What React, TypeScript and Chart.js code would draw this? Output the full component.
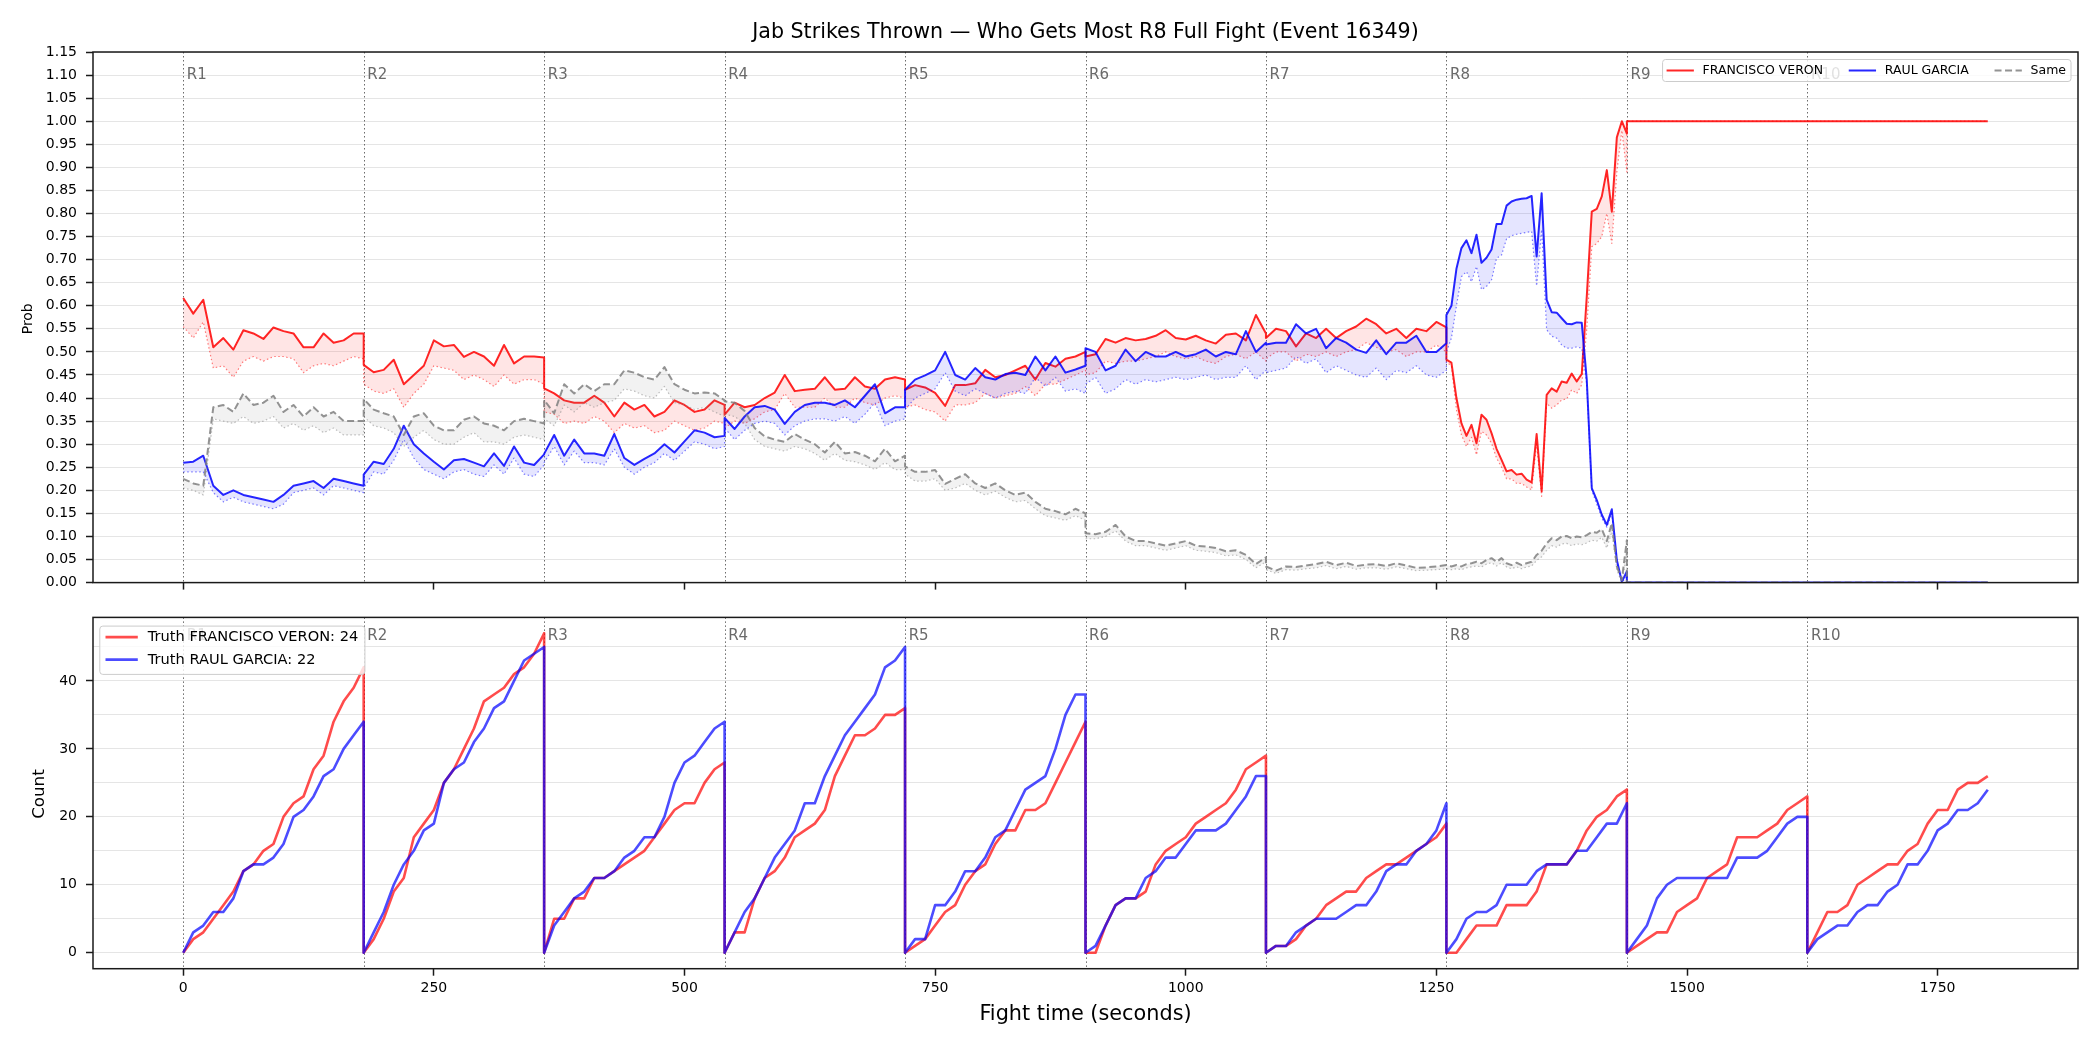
import { useEffect, useRef } from 'react';
import { Chart, registerables } from 'chart.js';

Chart.register(...registerables);

const FONT = "'DejaVu Sans', 'Liberation Sans', sans-serif";
Chart.defaults.font.family = FONT;

// ---------- text ----------
const TITLE = 'Jab Strikes Thrown — Who Gets Most R8 Full Fight (Event 16349)';
const FIGHTER_A = 'FRANCISCO VERON';
const FIGHTER_B = 'RAUL GARCIA';
const SAME_LABEL = 'Same';
const TRUTH_A = 24;
const TRUTH_B = 22;
const X_TITLE = 'Fight time (seconds)';

// ---------- axes ----------
const ROUND_STARTS = [0, 180, 360, 540, 720, 900, 1080, 1260, 1440, 1620];
const ROUND_LABELS = ['R1', 'R2', 'R3', 'R4', 'R5', 'R6', 'R7', 'R8', 'R9', 'R10'];
const TIME_TICKS = [0, 250, 500, 750, 1000, 1250, 1500, 1750];
const PROB_TICKS = [0, 0.05, 0.1, 0.15, 0.2, 0.25, 0.3, 0.35, 0.4, 0.45, 0.5, 0.55, 0.6, 0.65, 0.7, 0.75, 0.8, 0.85, 0.9, 0.95, 1.0, 1.05, 1.1, 1.15];
const COUNT_TICKS = [0, 5, 10, 15, 20, 25, 30, 35, 40, 45];

// sampling step (seconds) of each round's probability series, R1..R8
const PROB_STEPS = [10, 10, 10, 10, 10, 10, 10, 5];
// settled part after the R8 decision
const PROB_TAIL_TIMES = [1440, 1800];
const COUNT_STEP = 10;

// ---------- probability series (per round) ----------
const veronProb = [
  [0.617, 0.583, 0.613, 0.51, 0.53, 0.505, 0.547, 0.54, 0.528, 0.553, 0.545, 0.54, 0.51, 0.51, 0.54, 0.52, 0.525, 0.54, 0.54],
  [0.472, 0.456, 0.461, 0.483, 0.43, 0.45, 0.47, 0.525, 0.512, 0.515, 0.489, 0.5, 0.49, 0.47, 0.515, 0.475, 0.49, 0.49, 0.488],
  [0.421, 0.41, 0.395, 0.39, 0.39, 0.405, 0.39, 0.36, 0.39, 0.375, 0.385, 0.36, 0.37, 0.395, 0.385, 0.37, 0.375, 0.395, 0.385],
  [0.364, 0.39, 0.38, 0.385, 0.4, 0.412, 0.45, 0.415, 0.418, 0.42, 0.445, 0.418, 0.42, 0.445, 0.425, 0.42, 0.44, 0.445, 0.44],
  [0.418, 0.428, 0.423, 0.411, 0.383, 0.428, 0.428, 0.432, 0.461, 0.445, 0.45, 0.46, 0.47, 0.44, 0.476, 0.468, 0.485, 0.49, 0.5],
  [0.49, 0.495, 0.528, 0.52, 0.53, 0.525, 0.528, 0.535, 0.547, 0.53, 0.527, 0.535, 0.525, 0.518, 0.537, 0.54, 0.525, 0.58, 0.54],
  [0.53, 0.55, 0.545, 0.512, 0.54, 0.53, 0.55, 0.53, 0.545, 0.555, 0.572, 0.56, 0.54, 0.55, 0.53, 0.55, 0.545, 0.565, 0.553],
  [0.483, 0.477, 0.4, 0.345, 0.318, 0.342, 0.302, 0.364, 0.353, 0.324, 0.29, 0.266, 0.241, 0.244, 0.234, 0.236, 0.223, 0.217, 0.322, 0.198,
   0.407, 0.421, 0.414, 0.436, 0.433, 0.453, 0.436, 0.452, 0.62, 0.804, 0.81, 0.837, 0.894, 0.804, 0.965, 1.0, 0.973],
];
const veronProbTail = [1, 1];

const veronLow = [
  [0.555, 0.53, 0.565, 0.465, 0.47, 0.445, 0.48, 0.49, 0.48, 0.49, 0.49, 0.485, 0.455, 0.47, 0.475, 0.47, 0.48, 0.49, 0.485],
  [0.43, 0.415, 0.41, 0.42, 0.38, 0.41, 0.43, 0.47, 0.465, 0.46, 0.44, 0.45, 0.44, 0.425, 0.45, 0.43, 0.44, 0.44, 0.43],
  [0.37, 0.365, 0.345, 0.35, 0.345, 0.36, 0.35, 0.325, 0.345, 0.335, 0.34, 0.325, 0.33, 0.35, 0.34, 0.33, 0.335, 0.35, 0.345],
  [0.335, 0.35, 0.345, 0.355, 0.37, 0.375, 0.41, 0.38, 0.38, 0.38, 0.4, 0.38, 0.38, 0.4, 0.39, 0.385, 0.4, 0.405, 0.4],
  [0.38, 0.385, 0.375, 0.37, 0.35, 0.385, 0.385, 0.39, 0.41, 0.4, 0.405, 0.41, 0.425, 0.405, 0.43, 0.43, 0.44, 0.45, 0.46],
  [0.45, 0.455, 0.48, 0.475, 0.48, 0.48, 0.485, 0.49, 0.5, 0.49, 0.485, 0.49, 0.48, 0.475, 0.49, 0.495, 0.485, 0.5, 0.48],
  [0.485, 0.5, 0.5, 0.48, 0.495, 0.49, 0.5, 0.49, 0.5, 0.505, 0.52, 0.51, 0.5, 0.505, 0.49, 0.5, 0.5, 0.515, 0.5],
  [0.478, 0.47, 0.375, 0.32, 0.295, 0.315, 0.277, 0.328, 0.32, 0.302, 0.27, 0.25, 0.225, 0.225, 0.215, 0.215, 0.207, 0.201, 0.3, 0.187,
   0.389, 0.378, 0.385, 0.396, 0.398, 0.418, 0.41, 0.429, 0.55, 0.728, 0.735, 0.75, 0.8, 0.735, 0.89, 0.98, 0.89],
];
const veronLowTail = [1, 1];

const garciaProb = [
  [0.26, 0.262, 0.275, 0.21, 0.19, 0.2, 0.19, 0.185, 0.18, 0.175, 0.19, 0.21, 0.215, 0.22, 0.205, 0.225, 0.22, 0.215, 0.21],
  [0.234, 0.262, 0.257, 0.29, 0.34, 0.3, 0.28, 0.262, 0.245, 0.265, 0.268, 0.26, 0.252, 0.28, 0.253, 0.295, 0.26, 0.255, 0.278],
  [0.279, 0.32, 0.275, 0.31, 0.28, 0.28, 0.275, 0.322, 0.27, 0.255, 0.268, 0.28, 0.3, 0.282, 0.306, 0.33, 0.325, 0.315, 0.318],
  [0.357, 0.333, 0.36, 0.38, 0.383, 0.375, 0.344, 0.37, 0.385, 0.39, 0.39, 0.385, 0.395, 0.38, 0.405, 0.43, 0.367, 0.38, 0.38],
  [0.418, 0.44, 0.449, 0.46, 0.5, 0.45, 0.44, 0.465, 0.445, 0.44, 0.452, 0.455, 0.45, 0.49, 0.46, 0.49, 0.455, 0.462, 0.47],
  [0.508, 0.5, 0.46, 0.47, 0.505, 0.48, 0.5, 0.49, 0.49, 0.5, 0.49, 0.495, 0.505, 0.49, 0.5, 0.495, 0.545, 0.5, 0.52],
  [0.516, 0.52, 0.52, 0.56, 0.54, 0.55, 0.508, 0.53, 0.52, 0.505, 0.498, 0.525, 0.495, 0.52, 0.52, 0.535, 0.5, 0.5, 0.519],
  [0.58, 0.6, 0.68, 0.725, 0.742, 0.714, 0.754, 0.693, 0.704, 0.722, 0.777, 0.777, 0.817, 0.826, 0.83, 0.832, 0.833, 0.838, 0.707, 0.844,
   0.613, 0.586, 0.585, 0.573, 0.561, 0.56, 0.564, 0.563, 0.44, 0.205, 0.179, 0.147, 0.125, 0.159, 0.049, 0.002, 0.024],
];
const garciaProbTail = [0, 0];

const garciaLow = [
  [0.24, 0.24, 0.24, 0.195, 0.175, 0.185, 0.175, 0.17, 0.165, 0.16, 0.17, 0.195, 0.2, 0.205, 0.19, 0.21, 0.205, 0.2, 0.195],
  [0.205, 0.24, 0.235, 0.265, 0.31, 0.27, 0.245, 0.235, 0.225, 0.24, 0.245, 0.235, 0.23, 0.255, 0.235, 0.27, 0.235, 0.23, 0.255],
  [0.26, 0.295, 0.255, 0.285, 0.26, 0.26, 0.255, 0.29, 0.25, 0.235, 0.25, 0.26, 0.28, 0.265, 0.285, 0.305, 0.3, 0.29, 0.295],
  [0.335, 0.31, 0.33, 0.345, 0.35, 0.345, 0.32, 0.34, 0.35, 0.355, 0.355, 0.35, 0.36, 0.345, 0.365, 0.39, 0.34, 0.35, 0.355],
  [0.375, 0.4, 0.41, 0.42, 0.455, 0.415, 0.405, 0.42, 0.41, 0.4, 0.41, 0.415, 0.41, 0.445, 0.425, 0.445, 0.415, 0.42, 0.41],
  [0.43, 0.445, 0.41, 0.42, 0.44, 0.43, 0.44, 0.435, 0.44, 0.445, 0.44, 0.445, 0.45, 0.44, 0.445, 0.445, 0.47, 0.44, 0.46],
  [0.455, 0.46, 0.465, 0.49, 0.475, 0.485, 0.455, 0.47, 0.46, 0.45, 0.445, 0.465, 0.44, 0.46, 0.455, 0.47, 0.45, 0.445, 0.46],
  [0.5, 0.53, 0.6, 0.663, 0.674, 0.652, 0.685, 0.635, 0.642, 0.656, 0.703, 0.71, 0.745, 0.752, 0.755, 0.757, 0.759, 0.761, 0.643, 0.765,
   0.548, 0.534, 0.53, 0.515, 0.508, 0.508, 0.511, 0.508, 0.43, 0.2, 0.17, 0.14, 0.12, 0.15, 0.045, 0.0, 0.013],
];
const garciaLowTail = [0, 0];

const sameProb = [
  [0.225, 0.215, 0.21, 0.38, 0.385, 0.37, 0.41, 0.385, 0.39, 0.405, 0.37, 0.385, 0.36, 0.38, 0.36, 0.37, 0.35, 0.35, 0.35],
  [0.398, 0.375, 0.367, 0.36, 0.32, 0.36, 0.367, 0.34, 0.33, 0.33, 0.353, 0.36, 0.345, 0.34, 0.33, 0.35, 0.355, 0.35, 0.345],
  [0.396, 0.367, 0.43, 0.41, 0.43, 0.415, 0.43, 0.43, 0.46, 0.455, 0.445, 0.44, 0.467, 0.43, 0.418, 0.41, 0.412, 0.41, 0.395],
  [0.393, 0.39, 0.372, 0.335, 0.317, 0.31, 0.305, 0.322, 0.31, 0.3, 0.282, 0.305, 0.28, 0.283, 0.275, 0.263, 0.29, 0.263, 0.275],
  [0.252, 0.24, 0.24, 0.244, 0.214, 0.225, 0.235, 0.215, 0.205, 0.215, 0.2, 0.19, 0.195, 0.175, 0.16, 0.155, 0.148, 0.16, 0.15],
  [0.107, 0.105, 0.11, 0.125, 0.1, 0.09, 0.09, 0.085, 0.08, 0.085, 0.09, 0.08, 0.078, 0.075, 0.068, 0.07, 0.06, 0.04, 0.055],
  [0.035, 0.026, 0.035, 0.034, 0.037, 0.04, 0.045, 0.038, 0.043, 0.036, 0.039, 0.04, 0.036, 0.042, 0.037, 0.032, 0.033, 0.035, 0.038],
  [0.038, 0.035, 0.038, 0.035, 0.04, 0.042, 0.045, 0.042, 0.049, 0.053, 0.045, 0.053, 0.042, 0.038, 0.043, 0.038, 0.042, 0.045, 0.06, 0.069,
   0.085, 0.096, 0.092, 0.1, 0.101, 0.096, 0.1, 0.098, 0.103, 0.11, 0.108, 0.116, 0.09, 0.129, 0.035, 0.006, 0.092],
];
const sameProbTail = [0, 0];

const sameLow = [
  [0.205, 0.2, 0.19, 0.355, 0.35, 0.345, 0.36, 0.345, 0.35, 0.36, 0.335, 0.345, 0.33, 0.34, 0.325, 0.335, 0.32, 0.32, 0.32],
  [0.36, 0.34, 0.335, 0.325, 0.295, 0.315, 0.33, 0.31, 0.3, 0.3, 0.315, 0.325, 0.305, 0.305, 0.3, 0.315, 0.32, 0.315, 0.31],
  [0.355, 0.34, 0.385, 0.37, 0.39, 0.38, 0.39, 0.395, 0.42, 0.415, 0.405, 0.4, 0.425, 0.39, 0.385, 0.375, 0.38, 0.37, 0.36],
  [0.365, 0.36, 0.345, 0.31, 0.295, 0.29, 0.285, 0.295, 0.29, 0.28, 0.265, 0.28, 0.265, 0.262, 0.255, 0.245, 0.26, 0.245, 0.245],
  [0.235, 0.22, 0.22, 0.225, 0.2, 0.205, 0.215, 0.2, 0.19, 0.198, 0.185, 0.175, 0.178, 0.16, 0.145, 0.14, 0.135, 0.145, 0.135],
  [0.095, 0.095, 0.1, 0.112, 0.09, 0.08, 0.08, 0.075, 0.07, 0.075, 0.08, 0.07, 0.068, 0.065, 0.058, 0.06, 0.05, 0.032, 0.045],
  [0.028, 0.02, 0.028, 0.027, 0.03, 0.032, 0.037, 0.03, 0.035, 0.029, 0.032, 0.032, 0.029, 0.034, 0.03, 0.026, 0.027, 0.028, 0.03],
  [0.03, 0.028, 0.03, 0.028, 0.032, 0.034, 0.036, 0.034, 0.04, 0.043, 0.036, 0.043, 0.034, 0.03, 0.034, 0.03, 0.034, 0.036, 0.048, 0.056,
   0.07, 0.08, 0.077, 0.084, 0.085, 0.08, 0.084, 0.082, 0.086, 0.092, 0.09, 0.098, 0.075, 0.11, 0.028, 0.0, 0.06],
];
const sameLowTail = [0, 0];

// ---------- cumulative truth counts (per round, every 10 s) ----------
const veronCount = [
  [0, 2, 3, 5, 7, 9, 12, 13, 15, 16, 20, 22, 23, 27, 29, 34, 37, 39, 42],
  [0, 2, 5, 9, 11, 17, 19, 21, 25, 27, 30, 33, 37, 38, 39, 41, 42, 44, 47],
  [0, 5, 5, 8, 8, 11, 11, 12, 13, 14, 15, 17, 19, 21, 22, 22, 25, 27, 28],
  [0, 3, 3, 8, 11, 12, 14, 17, 18, 19, 21, 26, 29, 32, 32, 33, 35, 35, 36],
  [0, 1, 2, 4, 6, 7, 10, 12, 13, 16, 18, 18, 21, 21, 22, 25, 28, 31, 34],
  [0, 0, 4, 7, 8, 8, 9, 13, 15, 16, 17, 19, 20, 21, 22, 24, 27, 28, 29],
  [0, 1, 1, 2, 4, 5, 7, 8, 9, 9, 11, 12, 13, 13, 14, 15, 16, 17, 19],
  [0, 0, 2, 4, 4, 4, 7, 7, 7, 9, 13, 13, 13, 15, 18, 20, 21, 23, 24],
  [0, 1, 2, 3, 3, 6, 7, 8, 11, 12, 13, 17, 17, 17, 18, 19, 21, 22, 23],
  [0, 3, 6, 6, 7, 10, 11, 12, 13, 13, 15, 16, 19, 21, 21, 24, 25, 25, 26],
];
const garciaCount = [
  [0, 3, 4, 6, 6, 8, 12, 13, 13, 14, 16, 20, 21, 23, 26, 27, 30, 32, 34],
  [0, 3, 6, 10, 13, 15, 18, 19, 25, 27, 28, 31, 33, 36, 37, 40, 43, 44, 45],
  [0, 4, 6, 8, 9, 11, 11, 12, 14, 15, 17, 17, 20, 25, 28, 29, 31, 33, 34],
  [0, 3, 6, 8, 11, 14, 16, 18, 22, 22, 26, 29, 32, 34, 36, 38, 42, 43, 45],
  [0, 2, 2, 7, 7, 9, 12, 12, 14, 17, 18, 21, 24, 25, 26, 30, 35, 38, 38],
  [0, 1, 4, 7, 8, 8, 11, 12, 14, 14, 16, 18, 18, 18, 19, 21, 23, 26, 26],
  [0, 1, 1, 3, 4, 5, 5, 5, 6, 7, 7, 9, 12, 13, 13, 15, 16, 18, 22],
  [0, 2, 5, 6, 6, 7, 10, 10, 10, 12, 13, 13, 13, 15, 15, 17, 19, 19, 22],
  [0, 2, 4, 8, 10, 11, 11, 11, 11, 11, 11, 14, 14, 14, 15, 17, 19, 20, 20],
  [0, 2, 3, 4, 4, 6, 7, 7, 9, 10, 13, 13, 15, 18, 19, 21, 21, 22, 24],
];

// ---------- colours ----------
const RED = 'rgba(255,0,0,0.85)';
const BLUE = 'rgba(0,0,255,0.85)';
const GRAY = 'rgba(128,128,128,0.85)';
const RED_LOW = 'rgba(255,0,0,0.5)';
const BLUE_LOW = 'rgba(0,0,255,0.5)';
const GRAY_LOW = 'rgba(128,128,128,0.5)';
const RED_FILL = 'rgba(255,0,0,0.1)';
const BLUE_FILL = 'rgba(0,0,255,0.1)';
const GRAY_FILL = 'rgba(128,128,128,0.1)';
const RED_COUNT = 'rgba(255,0,0,0.7)';
const BLUE_COUNT = 'rgba(0,0,255,0.7)';
const DASH = [7, 3.5];
const DOT = [1.5, 2.5];

type Pt = { x: number; y: number };

function roundPoints(rounds: number[][], steps: number[], tailTimes: number[] = [], tail: number[] = []): Pt[] {
  const pts: Pt[] = [];
  rounds.forEach((vals, r) => {
    vals.forEach((v, k) => pts.push({ x: ROUND_STARTS[r] + k * steps[r], y: v }));
  });
  tail.forEach((v, i) => pts.push({ x: tailTimes[i], y: v }));
  return pts;
}

function drawRoundLines(chart: any) {
  const { ctx, chartArea: a, scales } = chart;
  ctx.save();
  ctx.strokeStyle = 'rgba(70,70,70,0.8)';
  ctx.lineWidth = 1;
  ctx.setLineDash([1.5, 2.5]);
  ROUND_STARTS.forEach((t) => {
    const x = Math.round(scales.x.getPixelForValue(t)) + 0.5;
    ctx.beginPath();
    ctx.moveTo(x, a.top);
    ctx.lineTo(x, a.bottom);
    ctx.stroke();
  });
  ctx.restore();
}

function drawRoundLabels(chart: any, offset: number) {
  const { ctx, chartArea: a, scales } = chart;
  ctx.save();
  ctx.font = `15px ${FONT}`;
  ctx.fillStyle = '#6a6a6a';
  ctx.textAlign = 'left';
  ctx.textBaseline = 'middle';
  ROUND_STARTS.forEach((t, i) => {
    const x = scales.x.getPixelForValue(t);
    ctx.fillText(ROUND_LABELS[i], x + 3.6, a.top + offset);
  });
  ctx.restore();
}

function drawFrame(chart: any) {
  const { ctx, chartArea: a } = chart;
  ctx.save();
  ctx.strokeStyle = '#1a1a1a';
  ctx.lineWidth = 1.5;
  ctx.setLineDash([]);
  ctx.strokeRect(a.left, a.top, a.right - a.left, a.bottom - a.top);
  ctx.restore();
}

function legendBox(ctx: CanvasRenderingContext2D, x: number, y: number, w: number, h: number) {
  ctx.save();
  ctx.beginPath();
  if ((ctx as any).roundRect) (ctx as any).roundRect(x, y, w, h, 3);
  else ctx.rect(x, y, w, h);
  ctx.fillStyle = 'rgba(255,255,255,0.8)';
  ctx.fill();
  ctx.strokeStyle = 'rgba(204,204,204,1)';
  ctx.lineWidth = 1;
  ctx.stroke();
  ctx.restore();
}

function sampleLine(ctx: CanvasRenderingContext2D, x1: number, x2: number, y: number, color: string, width: number, dash: number[]) {
  ctx.save();
  ctx.strokeStyle = color;
  ctx.lineWidth = width;
  ctx.setLineDash(dash);
  ctx.beginPath();
  ctx.moveTo(x1, y);
  ctx.lineTo(x2, y);
  ctx.stroke();
  ctx.restore();
}

function rotatedText(ctx: CanvasRenderingContext2D, text: string, x: number, y: number, size: number) {
  ctx.save();
  ctx.translate(x, y);
  ctx.rotate(-Math.PI / 2);
  ctx.font = `${size}px ${FONT}`;
  ctx.fillStyle = '#000';
  ctx.textAlign = 'center';
  ctx.textBaseline = 'middle';
  ctx.fillText(text, 0, 0);
  ctx.restore();
}

const topOverlay = {
  id: 'topOverlay',
  beforeDatasetsDraw(chart: any) {
    drawRoundLines(chart);
  },
  afterDatasetsDraw(chart: any) {
    drawRoundLabels(chart, 23);
  },
  afterDraw(chart: any) {
    const { ctx, chartArea: a } = chart;
    drawFrame(chart);
    // legend (one row, upper right)
    const entries = [
      { label: FIGHTER_A, color: RED, dash: [] as number[] },
      { label: FIGHTER_B, color: BLUE, dash: [] as number[] },
      { label: SAME_LABEL, color: GRAY, dash: DASH },
    ];
    const legendFont = `12.5px ${FONT}`;
    ctx.save();
    ctx.font = legendFont;
    const handle = 27.3, gap = 8.7, colGap = 25.7, padL = 4, padR = 5;
    const widths = entries.map((e) => ctx.measureText(e.label).width);
    const total = padL + padR + widths.reduce((s, w) => s + w + handle + gap, 0) + colGap * (entries.length - 1);
    const boxRight = a.right - 7;
    const boxLeft = boxRight - total;
    const boxTop = a.top + 7.5;
    const boxH = 22;
    legendBox(ctx, boxLeft, boxTop, total, boxH);
    const cy = boxTop + boxH / 2;
    let x = boxLeft + padL;
    entries.forEach((e, i) => {
      sampleLine(ctx, x, x + handle, cy, e.color, 2, e.dash);
      x += handle + gap;
      ctx.fillStyle = '#000';
      ctx.textAlign = 'left';
      ctx.textBaseline = 'middle';
      ctx.font = legendFont;
      ctx.fillText(e.label, x, cy + 0.5);
      x += widths[i] + colGap;
    });
    ctx.restore();
    // title
    ctx.save();
    ctx.font = `20.6px ${FONT}`;
    ctx.fillStyle = '#000';
    ctx.textAlign = 'center';
    ctx.textBaseline = 'alphabetic';
    ctx.fillText(TITLE, (a.left + a.right) / 2, 38);
    ctx.restore();
    rotatedText(ctx, 'Prob', 28, (a.top + a.bottom) / 2 + 1.5, 13.9);
  },
};

const bottomOverlay = {
  id: 'bottomOverlay',
  beforeDatasetsDraw(chart: any) {
    drawRoundLines(chart);
  },
  afterDatasetsDraw(chart: any) {
    drawRoundLabels(chart, 18.5);
  },
  afterDraw(chart: any) {
    const { ctx, chartArea: a } = chart;
    drawFrame(chart);
    const entries = [
      { label: `Truth ${FIGHTER_A}: ${TRUTH_A}`, color: RED_COUNT },
      { label: `Truth ${FIGHTER_B}: ${TRUTH_B}`, color: BLUE_COUNT },
    ];
    const legendFont = `14.6px ${FONT}`;
    ctx.save();
    ctx.font = legendFont;
    const padL = 5.7, handle = 32.3, gap = 10, padR = 6.7;
    const maxW = Math.max(...entries.map((e) => ctx.measureText(e.label).width));
    const boxLeft = a.left + 6.8;
    const boxTop = a.top + 8.7;
    const boxW = padL + handle + gap + maxW + padR;
    legendBox(ctx, boxLeft, boxTop, boxW, 48.3);
    const rows = [boxTop + 11, boxTop + 33.5];
    entries.forEach((e, i) => {
      sampleLine(ctx, boxLeft + padL, boxLeft + padL + handle, rows[i], e.color, 2.6, []);
      ctx.fillStyle = '#000';
      ctx.textAlign = 'left';
      ctx.textBaseline = 'middle';
      ctx.font = legendFont;
      ctx.fillText(e.label, boxLeft + padL + handle + gap, rows[i] + 0.5);
    });
    ctx.restore();
    rotatedText(ctx, 'Count', 40, (a.top + a.bottom) / 2 + 1, 16.7);
    ctx.save();
    ctx.font = `20.8px ${FONT}`;
    ctx.fillStyle = '#000';
    ctx.textAlign = 'center';
    ctx.textBaseline = 'alphabetic';
    ctx.fillText(X_TITLE, (a.left + a.right) / 2, 420);
    ctx.restore();
  },
};

const tickFont = { family: FONT, size: 14 };

function xScale(showLabels: boolean, height: number) {
  return {
    type: 'linear',
    min: -90,
    max: 1890,
    afterBuildTicks: (s: any) => {
      s.ticks = TIME_TICKS.map((v) => ({ value: v }));
    },
    afterFit: (s: any) => {
      s.height = height;
    },
    grid: { drawOnChartArea: false, drawTicks: true, tickLength: 7, tickWidth: 1.5, tickColor: '#1a1a1a' },
    border: { display: false },
    ticks: {
      autoSkip: false,
      maxRotation: 0,
      padding: 4,
      color: '#000',
      font: tickFont,
      callback: (v: any) => (showLabels ? String(v) : ''),
    },
  };
}

function lineDs(data: Pt[], color: string, width: number, dash: number[], fill: any = false, bg = 'transparent') {
  return {
    data,
    borderColor: color,
    borderWidth: width,
    borderDash: dash,
    borderJoinStyle: 'round',
    fill,
    backgroundColor: bg,
    pointRadius: 0,
    pointHoverRadius: 0,
    tension: 0,
  };
}

export default function App() {
  const topRef = useRef<HTMLCanvasElement>(null);
  const botRef = useRef<HTMLCanvasElement>(null);

  useEffect(() => {
    const pSteps = PROB_STEPS;
    const topChart = new Chart(topRef.current as HTMLCanvasElement, {
      type: 'line',
      data: {
        datasets: [
          lineDs(roundPoints(sameProb, pSteps, PROB_TAIL_TIMES, sameProbTail), GRAY, 2, DASH),
          lineDs(roundPoints(sameLow, pSteps, PROB_TAIL_TIMES, sameLowTail), GRAY_LOW, 1.2, DOT, '-1', GRAY_FILL),
          lineDs(roundPoints(garciaProb, pSteps, PROB_TAIL_TIMES, garciaProbTail), BLUE, 2, []),
          lineDs(roundPoints(garciaLow, pSteps, PROB_TAIL_TIMES, garciaLowTail), BLUE_LOW, 1.2, DOT, '-1', BLUE_FILL),
          lineDs(roundPoints(veronProb, pSteps, PROB_TAIL_TIMES, veronProbTail), RED, 2, []),
          lineDs(roundPoints(veronLow, pSteps, PROB_TAIL_TIMES, veronLowTail), RED_LOW, 1.2, DOT, '-1', RED_FILL),
        ] as any,
      },
      options: {
        responsive: false,
        maintainAspectRatio: false,
        animation: false,
        events: [],
        layout: { padding: { left: 0, top: 52, right: 22, bottom: 0 } },
        plugins: { legend: { display: false }, tooltip: { enabled: false }, title: { display: false } },
        scales: {
          x: xScale(false, 17) as any,
          y: {
            type: 'linear',
            min: 0,
            max: 1.15,
            afterBuildTicks: (s: any) => {
              s.ticks = PROB_TICKS.map((v) => ({ value: v }));
            },
            afterFit: (s: any) => {
              s.width = 93;
            },
            grid: { color: 'rgba(0,0,0,0.1)', lineWidth: 1, drawTicks: true, tickLength: 7, tickWidth: 1.5, tickColor: '#1a1a1a' },
            border: { display: false },
            ticks: {
              autoSkip: false,
              padding: 9,
              color: '#000',
              font: tickFont,
              callback: (v: any) => Number(v).toFixed(2),
            },
          } as any,
        },
      },
      plugins: [topOverlay],
    } as any);

    const botChart = new Chart(botRef.current as HTMLCanvasElement, {
      type: 'line',
      data: {
        datasets: [
          lineDs(roundPoints(garciaCount, ROUND_STARTS.map(() => COUNT_STEP)), BLUE_COUNT, 2.6, []),
          lineDs(roundPoints(veronCount, ROUND_STARTS.map(() => COUNT_STEP)), RED_COUNT, 2.6, []),
        ] as any,
      },
      options: {
        responsive: false,
        maintainAspectRatio: false,
        animation: false,
        events: [],
        layout: { padding: { left: 0, top: 14, right: 22, bottom: 0 } },
        plugins: { legend: { display: false }, tooltip: { enabled: false }, title: { display: false } },
        scales: {
          x: xScale(true, 81.3) as any,
          y: {
            type: 'linear',
            min: -2.35,
            max: 49.35,
            afterBuildTicks: (s: any) => {
              s.ticks = COUNT_TICKS.map((v) => ({ value: v }));
            },
            afterFit: (s: any) => {
              s.width = 93;
            },
            grid: {
              color: 'rgba(0,0,0,0.1)',
              lineWidth: 1,
              drawTicks: true,
              tickLength: 7,
              tickWidth: 1.5,
              tickColor: (c: any) => (c.tick && c.tick.value % 10 === 0 ? '#1a1a1a' : 'rgba(0,0,0,0)'),
            },
            border: { display: false },
            ticks: {
              autoSkip: false,
              padding: 9,
              color: '#000',
              font: tickFont,
              callback: (v: any) => (Number(v) % 10 === 0 ? String(v) : ''),
            },
          } as any,
        },
      },
      plugins: [bottomOverlay],
    } as any);

    return () => {
      topChart.destroy();
      botChart.destroy();
    };
  }, []);

  return (
    <div style={{ position: 'absolute', left: 0, top: 0, width: 2100, height: 1050, background: '#fff' }}>
      <canvas ref={topRef} width={2100} height={600} style={{ position: 'absolute', left: 0, top: 0, width: 2100, height: 600 }} />
      <canvas ref={botRef} width={2100} height={450} style={{ position: 'absolute', left: 0, top: 600, width: 2100, height: 450 }} />
    </div>
  );
}
